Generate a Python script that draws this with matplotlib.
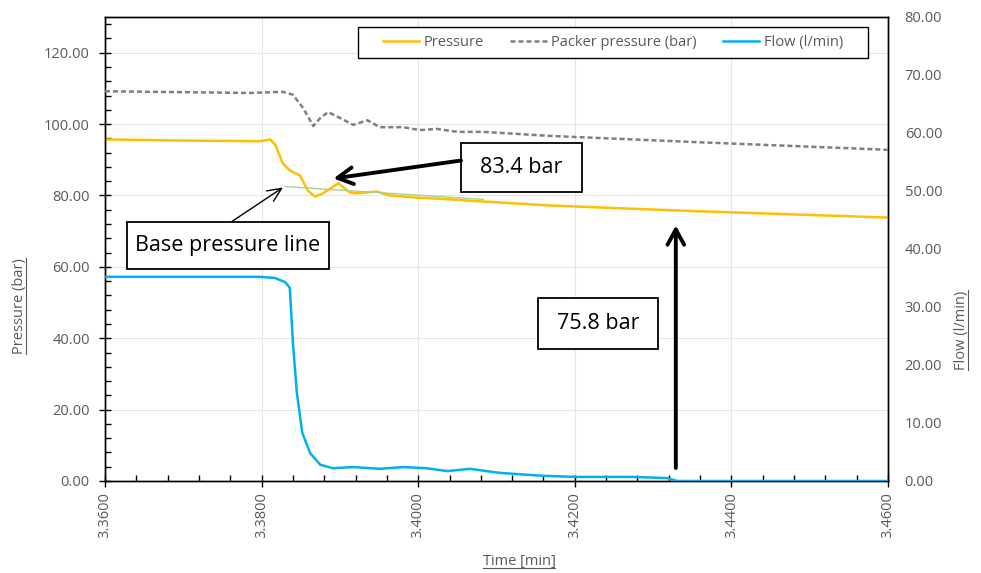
import matplotlib
matplotlib.use("Agg")
import matplotlib.pyplot as plt
from matplotlib.lines import Line2D
from matplotlib.patches import Rectangle
from matplotlib.ticker import MultipleLocator, FormatStrFormatter

plt.rcParams['font.family'] = ['Open Sans', 'DejaVu Sans']

# Pressure (bar), left axis
pressure_time = [3.3600, 3.3696, 3.3798, 3.3806, 3.3811, 3.3818, 3.3827, 3.3836, 3.3849,
                 3.3859, 3.3868, 3.3876, 3.3884, 3.3898, 3.3913, 3.3922, 3.3947, 3.3964,
                 3.3998, 3.4041, 3.4083, 3.4168, 3.4329, 3.4600]
pressure = [95.7, 95.4, 95.2, 95.5, 95.7, 94.0, 89.0, 87.0, 85.6,
            81.4, 79.7, 80.3, 81.4, 83.4, 80.8, 80.6, 81.1, 80.0,
            79.4, 78.9, 78.3, 77.2, 75.8, 73.8]

# Packer pressure (bar), right axis
packer_time = [3.3600, 3.3785, 3.3827, 3.3840, 3.3853, 3.3866, 3.3875, 3.3885,
               3.3900, 3.3917, 3.3935, 3.3951, 3.3981, 3.4002, 3.4024, 3.4050,
               3.4083, 3.4168, 3.4360, 3.4600]
packer = [67.2, 66.9, 67.1, 66.6, 64.3, 61.2, 62.6, 63.6,
          62.6, 61.4, 62.2, 61.0, 61.0, 60.5, 60.7, 60.2,
          60.2, 59.5, 58.4, 57.1]

# Flow (l/min), right axis
flow_time = [3.3600, 3.3798, 3.3817, 3.3830, 3.3836, 3.3840, 3.3845, 3.3852,
             3.3862, 3.3875, 3.3891, 3.3917, 3.3951, 3.3981, 3.4011, 3.4037,
             3.4066, 3.4104, 3.4159, 3.4203, 3.4274, 3.4318, 3.4331, 3.4600]
flow = [35.2, 35.2, 35.0, 34.3, 33.3, 23.8, 15.2, 8.3,
        4.8, 2.8, 2.2, 2.4, 2.1, 2.4, 2.2, 1.7,
        2.1, 1.4, 0.9, 0.7, 0.7, 0.5, 0.0, 0.0]

# Base pressure line
base_time = [3.3830, 3.4083]
base_pressure = [82.5, 78.9]

peak_label = "83.4 bar"
final_label = "75.8 bar"
base_label = "Base pressure line"

C_PRESS = '#FFC000'
C_PACK = '#7F7F7F'
C_FLOW = '#00B0F0'
C_BASE = '#A9D18E'
C_TEXT = '#595959'

fig = plt.figure(figsize=(9.81, 5.73), dpi=100)
ax = fig.add_axes([105 / 981, 1 - 481 / 573, 783 / 981, 464 / 573])
ax2 = ax.twinx()

ax.set_xlim(3.36, 3.46)
ax.set_ylim(0, 130)
ax2.set_ylim(0, 80)

ax.plot(pressure_time, pressure, color=C_PRESS, lw=1.8, zorder=4)
ax.plot(base_time, base_pressure, color=C_BASE, lw=1.0, zorder=5)
ax2.plot(packer_time, packer, color=C_PACK, lw=1.8, dashes=(2, 1.2), zorder=3)
ax2.plot(flow_time, flow, color=C_FLOW, lw=1.8, zorder=3)

# ticks and grid
ax.xaxis.set_major_locator(MultipleLocator(0.02))
ax.xaxis.set_minor_locator(MultipleLocator(0.004))
ax.yaxis.set_major_locator(MultipleLocator(20))
ax.yaxis.set_minor_locator(MultipleLocator(4))
ax.xaxis.set_major_formatter(FormatStrFormatter('%.4f'))
ax.yaxis.set_major_formatter(FormatStrFormatter('%.2f'))
ax2.yaxis.set_major_locator(MultipleLocator(10))
ax2.yaxis.set_major_formatter(FormatStrFormatter('%.2f'))
ax2.yaxis.set_minor_locator(plt.NullLocator())

ax.grid(True, which='major', color='#E6E6E6', lw=0.8)
ax.set_axisbelow(True)
ax.tick_params(axis='both', which='major', direction='inout', length=8, width=1,
               color='black', labelcolor=C_TEXT, labelsize=10.5)
ax.tick_params(axis='y', which='major', pad=7)
ax.tick_params(axis='x', which='major', pad=4, labelrotation=90)
ax.tick_params(axis='both', which='minor', direction='in', length=4, width=1, color='black')
ax2.tick_params(axis='y', which='major', length=0, pad=12, labelcolor=C_TEXT, labelsize=10.5)

for a in (ax, ax2):
    for s in a.spines.values():
        s.set_color('black')
        s.set_linewidth(1.0)

# legend: frame drawn as its own box behind a frameless legend
frame = Rectangle((0.3231, 0.9116), 0.9745 - 0.3231, 0.9784 - 0.9116,
                  transform=ax2.transAxes, facecolor='white', edgecolor='black',
                  lw=1.0, zorder=6)
ax2.add_patch(frame)
handles = [Line2D([], [], color=C_PRESS, lw=1.8),
           Line2D([], [], color=C_PACK, lw=1.8, dashes=(2, 1.2)),
           Line2D([], [], color=C_FLOW, lw=1.8)]
labels = ['Pressure', 'Packer pressure (bar)', 'Flow (l/min)']
leg = ax2.legend(handles, labels, loc='center', bbox_to_anchor=(0.6488, 0.945),
                 ncol=3, frameon=False, fontsize=10.5,
                 handlelength=2.5, columnspacing=1.8, borderaxespad=0,
                 borderpad=0, handletextpad=0.3)
leg.set_zorder(7)
for t in leg.get_texts():
    t.set_color(C_TEXT)


def boxed_text(x0, x1, y0, y1, text):
    ax.add_patch(Rectangle((x0, y0), x1 - x0, y1 - y0, facecolor='white',
                           edgecolor='black', lw=1.3, zorder=8))
    ax.text((x0 + x1) / 2, (y0 + y1) / 2, text, ha='center', va='center',
            fontsize=15.5, color='black', zorder=9)


boxed_text(3.40547, 3.42092, 80.84, 94.83, peak_label)
boxed_text(3.36281, 3.38861, 59.30, 72.45, base_label)
boxed_text(3.41530, 3.43063, 36.92, 51.19, final_label)

thick_head = '->,head_length=1.1,head_width=0.6'
ax.annotate('', xy=(3.38919, 84.76), xytext=(3.40547, 89.79),
            arrowprops=dict(arrowstyle=thick_head, lw=2.8, color='black',
                            shrinkA=0, shrinkB=0), zorder=9)
ax.annotate('', xy=(3.38273, 82.24), xytext=(3.37622, 72.73),
            arrowprops=dict(arrowstyle='->,head_length=1.0,head_width=0.45',
                            lw=1.0, color='black', shrinkA=0, shrinkB=0), zorder=9)
ax.annotate('', xy=(3.4329, 71.61), xytext=(3.4329, 3.64),
            arrowprops=dict(arrowstyle=thick_head, lw=2.8, color='black',
                            shrinkA=0, shrinkB=0), zorder=9)

# underlined axis titles
W, H = 981, 573
t_left = fig.text(20 / W, 1 - 306 / H, 'Pressure (bar)', rotation=90, ha='center',
                  va='center', fontsize=10.5, color=C_TEXT)
t_right = fig.text(962 / W, 1 - 330 / H, 'Flow (l/min)', rotation=90, ha='center',
                   va='center', fontsize=10.5, color=C_TEXT)
t_bottom = fig.text(519 / W, 1 - 562 / H, 'Time [min]', ha='center', va='center',
                    fontsize=10.5, color=C_TEXT)

fig.canvas.draw()
r = fig.canvas.get_renderer()
for t in (t_left, t_right):
    bb = t.get_window_extent(r)
    x = bb.x1 - 2
    fig.add_artist(Line2D([x / W, x / W], [bb.y0 / H, bb.y1 / H], color=C_TEXT, lw=0.8))
bb = t_bottom.get_window_extent(r)
y = bb.y0 + 2
fig.add_artist(Line2D([bb.x0 / W, bb.x1 / W], [y / H, y / H], color=C_TEXT, lw=0.8))

fig.savefig('out.png', dpi=100, facecolor='white')
